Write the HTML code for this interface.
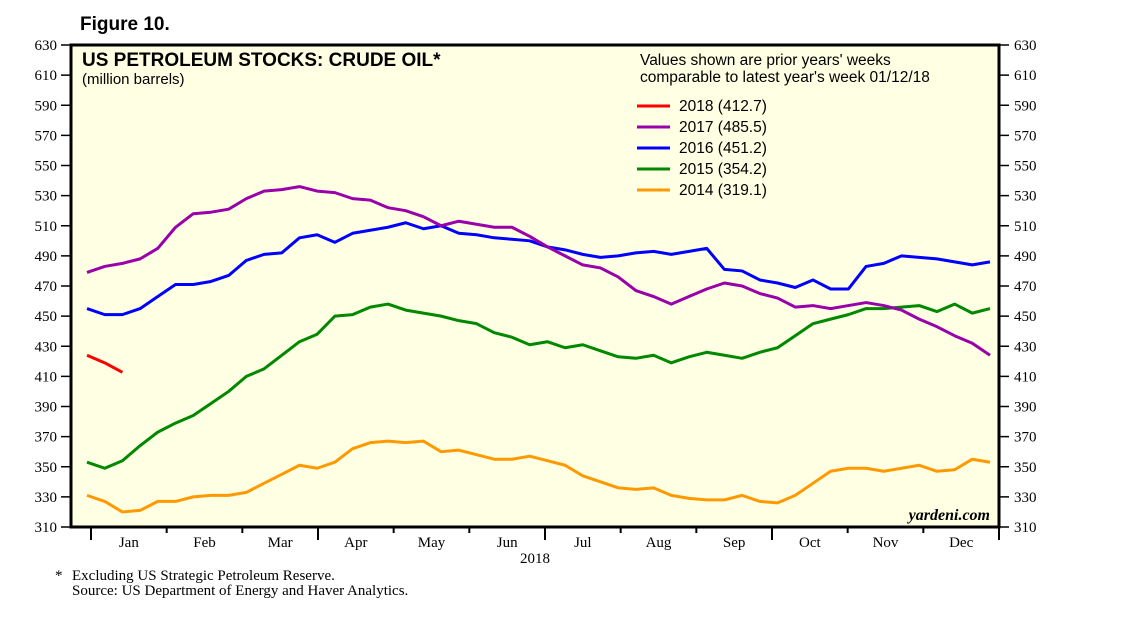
<!DOCTYPE html>
<html><head><meta charset="utf-8"><style>
body{margin:0;background:#fff}
svg text{font-family:"Liberation Serif",serif;font-size:15px;fill:#000}
.s{font-family:"Liberation Sans",sans-serif}
</style></head><body>
<svg id="c" width="1138" height="621" xmlns="http://www.w3.org/2000/svg">
<text class="s" x="80" y="30" style="font-size:19px;font-weight:bold">Figure 10.</text>
<rect x="71" y="45" width="928" height="482" fill="#ffffe3"/>
<g id="ax"></g>
<g id="lines"></g>
<rect x="71" y="45" width="928" height="482" fill="none" stroke="#000" stroke-width="3"/>
<text class="s" x="82" y="66" style="font-size:19px;font-weight:bold">US PETROLEUM STOCKS: CRUDE OIL*</text>
<text class="s" x="82" y="84" style="font-size:15px">(million barrels)</text>
<text class="s" x="640" y="65" style="font-size:15.5px">Values shown are prior years' weeks</text>
<text class="s" x="640" y="82" style="font-size:15.5px">comparable to latest year's week 01/12/18</text>
<g id="legend"></g>
<text x="990" y="520" text-anchor="end" style="font-size:16px;font-style:italic;font-weight:bold">yardeni.com</text>
<text x="535" y="563" text-anchor="middle">2018</text>
<text x="55" y="580">*</text>
<text x="72" y="580">Excluding US Strategic Petroleum Reserve.</text>
<text x="72" y="595">Source: US Department of Energy and Haver Analytics.</text>
</svg>
<script>
const yTicks=[310,330,350,370,390,410,430,450,470,490,510,530,550,570,590,610,630];
const months=["Jan","Feb","Mar","Apr","May","Jun","Jul","Aug","Sep","Oct","Nov","Dec"];
const seriesNames=["2018 (412.7)","2017 (485.5)","2016 (451.2)","2015 (354.2)","2014 (319.1)"];
const s2018=[424,419,412.7];
const s2017=[479,483,485,488,495,509,518,519,521,528,533,534,536,533,532,528,527,522,520,516,510,513,511,509,509,503,496,490,484,482,476,467,463,458,463,468,472,470,465,462,456,457,455,457,459,457,454,448,443,437,432,424];
const s2016=[455,451,451,455,463,471,471,473,477,487,491,492,502,504,499,505,507,509,512,508,510,505,504,502,501,500,496,494,491,489,490,492,493,491,493,495,481,480,474,472,469,474,468,468,483,485,490,489,488,486,484,486];
const s2015=[353,349,354,364,373,379,384,392,400,410,415,424,433,438,450,451,456,458,454,452,450,447,445,439,436,431,433,429,431,427,423,422,424,419,423,426,424,422,426,429,437,445,448,451,455,455,456,457,453,458,452,455];
const s2014=[331,327,320,321,327,327,330,331,331,333,339,345,351,349,353,362,366,367,366,367,360,361,358,355,355,357,354,351,344,340,336,335,336,331,329,328,328,331,327,326,331,339,347,349,349,347,349,351,347,348,355,353];
const colors=["#ff0000","#9900aa","#0000ff","#008800","#ff9900"];
const NS="http://www.w3.org/2000/svg";
const y=v=>527-(v-310)*482/320;
const x=i=>87+i*(990-87)/51;
const mk=(t,a,p)=>{const e=document.createElementNS(NS,t);for(const k in a)e.setAttribute(k,a[k]);p.appendChild(e);return e;};
const ax=document.getElementById('ax');
yTicks.forEach(v=>{
 let l=mk('line',{x1:61,x2:71,y1:y(v),y2:y(v),stroke:'#000','stroke-width':1.5},ax);
 
 
 let r=mk('line',{x1:999,x2:1009,y1:y(v),y2:y(v),stroke:'#000','stroke-width':1.5},ax);
 
 
 let t=mk('text',{x:57,y:y(v)+5,'text-anchor':'end'},ax);t.textContent=v;
 
 
 let t2=mk('text',{x:1014,y:y(v)+5},ax);t2.textContent=v;
 
 
});
const mw=(999-91)/12;
months.forEach((m,i)=>{
 const bx=91+i*mw;
 let l=mk('line',{x1:bx,x2:bx,y1:527,y2:(i%3==0)?540:533,stroke:'#000','stroke-width':2},ax);
 
 
 let t=mk('text',{x:bx+mw/2,y:547,'text-anchor':'middle'},ax);t.textContent=m;
 
 
});
let e=mk('line',{x1:999,x2:999,y1:527,y2:540,stroke:'#000','stroke-width':2},ax);


const lg=document.getElementById('lines');
const all=[s2018,s2017,s2016,s2015,s2014];
for(let k=all.length-1;k>=0;k--){
 const p=mk('polyline',{points:all[k].map((v,i)=>x(i)+','+y(v)).join(' '),fill:'none',stroke:colors[k],'stroke-width':3,'stroke-linejoin':'round'},lg);
 
 
}
const L=document.getElementById('legend');
seriesNames.forEach((n,i)=>{
 const yy=106+i*21;
 let l=mk('line',{x1:637,x2:670,y1:yy,y2:yy,stroke:colors[i],'stroke-width':3},L);
 
 
 let t=mk('text',{x:679,y:yy+5,class:'s',style:'font-size:15.5px'},L);t.textContent=n;
 
 
});
</script>
</body></html>
